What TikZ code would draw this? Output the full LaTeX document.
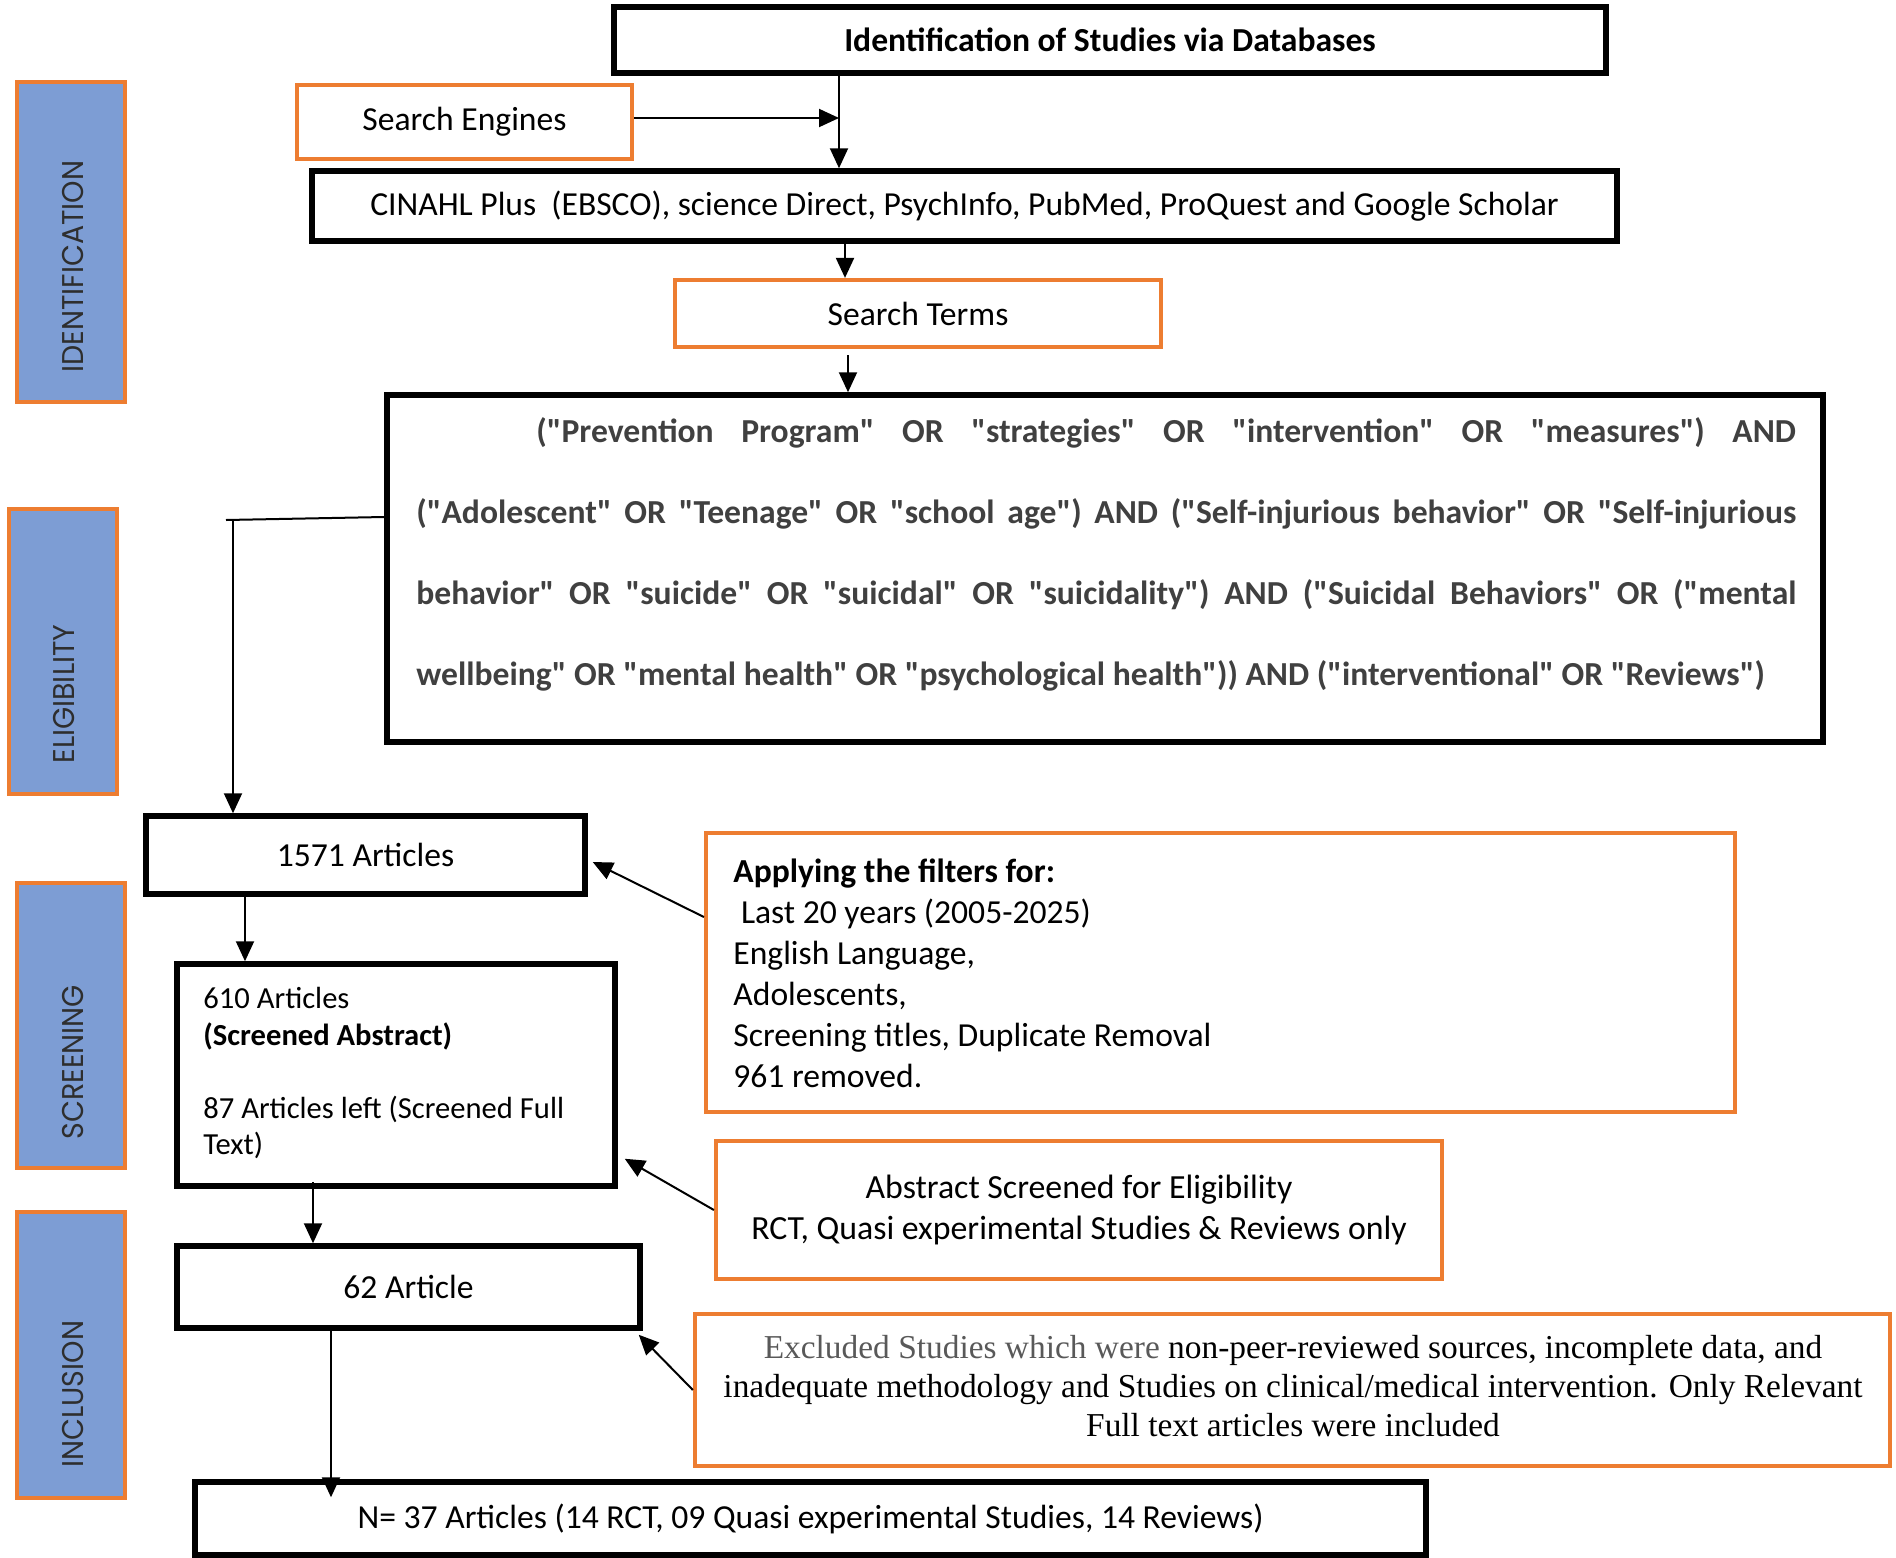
\documentclass[tikz,border=0pt]{standalone}
\usepackage{fontspec}
\setmainfont{Carlito}[Ligatures=TeXOff]
\newfontfamily\timesfont{Liberation Serif}[Ligatures=TeXOff]
\newfontfamily\sidefont{Poppins}
\usetikzlibrary{arrows.meta,calc}
\definecolor{orng}{HTML}{ED7D31}
\definecolor{sideblue}{HTML}{7D9DD4}
\definecolor{qgray}{HTML}{404040}
\definecolor{exgray}{HTML}{595959}
\definecolor{sidetext}{HTML}{2E2E2E}
\newcommand{\sidetxt}[1]{\scalebox{0.95}[1]{#1}}
\begin{document}
\begin{tikzpicture}[x=0.5pt,y=-0.5pt,
  bbox/.style={draw=black, line width=2.75pt, inner sep=0pt, fill=white},
  obox/.style={draw=orng, line width=2.1pt, inner sep=0pt, fill=white},
  sbox/.style={draw=orng, fill=sideblue, line width=2.2pt, inner sep=0pt},
  arr/.style={-{Triangle[length=10pt,width=9pt]}, line width=1pt},
  conn/.style={line width=1pt},
  body/.style={font=\fontsize{16.8pt}{20pt}\selectfont},
  qtext/.style={anchor=base west, inner sep=0pt, text=qgray, font=\bfseries\fontsize{16.8pt}{20pt}\selectfont},
  sidelab/.style={rotate=90, anchor=west, inner sep=0pt, text=sidetext, font=\sidefont\fontsize{15pt}{16pt}\selectfont},
]
\useasboundingbox (0,0) rectangle (1896,1558);

% side bars
\node[sbox, minimum width=54pt, minimum height=160pt] (sid) at (71,242) {};
\node[sbox, minimum width=54pt, minimum height=142.5pt] (sel) at (63,651.5) {};
\node[sbox, minimum width=54pt, minimum height=142.5pt] (ssc) at (71,1025.5) {};
\node[sbox, minimum width=54pt, minimum height=143pt] (sin) at (71,1355) {};
\node[sidelab] (lid) at (73,373) {\sidetxt{IDENTIFICATION}};
\node[sidelab] (lel) at (64,764) {\sidetxt{ELIGIBILITY}};
\node[sidelab] (lsc) at (73,1140) {\sidetxt{SCREENING}};
\node[sidelab] (lin) at (73,1468) {\sidetxt{INCLUSION}};

% boxes
\node[bbox, body, minimum width=496pt, minimum height=33pt] (title) at (1110,40) {\textbf{Identification of Studies via Databases}};
\node[obox, body, minimum width=167.5pt, minimum height=37pt] (engines) at (464.5,122) {Search Engines};
\node[bbox, body, minimum width=652.5pt, minimum height=35pt] (cinahl) at (964.5,206) {CINAHL Plus\ \ (EBSCO), science Direct, PsychInfo, PubMed, ProQuest and Google Scholar};
\node[obox, body, minimum width=243pt, minimum height=33.5pt] (terms) at (918,313.5) {Search Terms};
\node[bbox, minimum width=718pt, minimum height=173.5pt] (query) at (1105,568.5) {};
\node[qtext] (q1) at (536,442) {\makebox[630pt][s]{("Prevention Program" OR "strategies" OR "intervention" OR "measures") AND}};
\node[qtext] (q2) at (416,523) {\makebox[690pt][s]{("Adolescent" OR "Teenage" OR "school age") AND ("Self-injurious behavior" OR "Self-injurious}};
\node[qtext] (q3) at (416,604) {\makebox[690pt][s]{behavior" OR "suicide" OR "suicidal" OR "suicidality") AND ("Suicidal Behaviors" OR ("mental}};
\node[qtext] (q4) at (416,685) {wellbeing" OR "mental health" OR "psychological health")) AND ("interventional" OR "Reviews")};

\node[bbox, body, minimum width=219.5pt, minimum height=39pt] (a1571) at (365.5,855) {1571 Articles};
\node[obox, minimum width=514.5pt, minimum height=139.5pt] (filters) at (1220.5,972.5) {};
\node[align=left, anchor=west, inner sep=0pt, font=\fontsize{16.8pt}{20.5pt}\selectfont] (ftext) at (733,973)
  {\textbf{Applying the filters for:}\\\ Last 20 years (2005-2025)\\English Language,\\Adolescents,\\Screening titles, Duplicate Removal\\961 removed.};

\node[bbox, minimum width=219pt, minimum height=111pt] (a610) at (396,1075) {};
\node[align=left, anchor=west, inner sep=0pt, font=\fontsize{15.3pt}{18.25pt}\selectfont] (t610) at (203,1073)
  {610 Articles\\\textbf{(Screened Abstract)}\\[18.25pt]87 Articles left (Screened Full\\Text)};

\node[obox, align=center, font=\fontsize{16.9pt}{20.5pt}\selectfont, minimum width=363pt, minimum height=69pt] (abstract) at (1079,1210)
  {Abstract Screened for Eligibility\\RCT, Quasi experimental Studies \& Reviews only};

\node[bbox, body, minimum width=231.5pt, minimum height=41pt] (a62) at (408.5,1287) {62 Article};

\node[obox, minimum width=597.5pt, minimum height=76pt] (excluded) at (1292.5,1390) {};
\node[align=center, inner sep=0pt, font=\timesfont\fontsize{16.7pt}{19.5pt}\selectfont] (extext) at (1293,1386)
  {\textcolor{exgray}{Excluded Studies which were} non-peer-reviewed sources, incomplete data, and\\inadequate methodology and Studies on clinical/medical intervention. Only Relevant\\Full text articles were included};

\node[bbox, body, minimum width=615.5pt, minimum height=36.5pt] (final) at (810.5,1518.5) {N= 37 Articles (14 RCT, 09 Quasi experimental Studies, 14 Reviews)};

% helper coordinates
\coordinate (xT) at (839,0);
\coordinate (xC) at (845,0);
\coordinate (xS) at (848,0);
\coordinate (yQ) at (0,517);
\coordinate (yE) at (0,118);
\coordinate (stub) at (226,520);
\coordinate (elbow) at (233,520);
\coordinate (x15) at (245,0);
\coordinate (yF) at (0,917);
\coordinate (x61) at (313,0);
\coordinate (x62) at (331,0);

% connectors
\draw[arr] (title.south -| xT) -- (cinahl.north -| xT);
\draw[arr] (engines.east |- yE) -- (xT |- yE);
\draw[arr] (cinahl.south -| xC) -- (terms.north -| xC);
\draw[arr] ($(terms.south -| xS)+(0,6)$) -- (query.north -| xS);
\draw[conn] (query.west |- yQ) -- (stub);
\draw[arr] (elbow) -- (a1571.north -| elbow);
\draw[arr] (a1571.south -| x15) -- (a610.north -| x15);
\draw[arr] (filters.west |- yF) -- ($(a1571.east)+(5,7)$);
\draw[arr] (abstract.west) -- ($(a610.south east)+(7,-30)$);
\draw[arr] ($(a610.south -| x61)+(0,-7)$) -- (a62.north -| x61);
\draw[arr] (excluded.west) -- ($(a62.south east)+(-4,4)$);
\draw[arr] (a62.south -| x62) -- ($(final.north -| x62)+(0,18)$);
\end{tikzpicture}
\end{document}
